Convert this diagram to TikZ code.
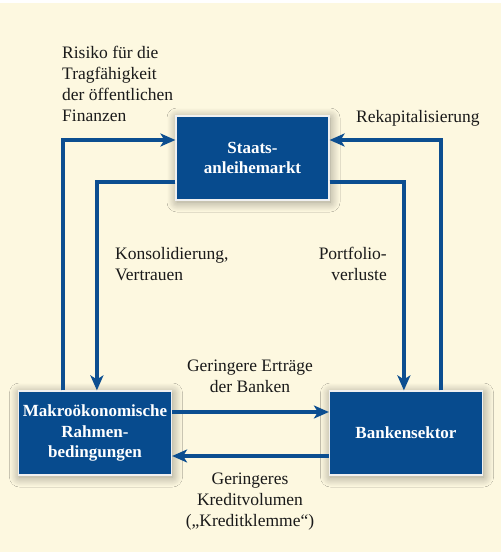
\documentclass[tikz,border=0pt]{standalone}
\usepackage{fontspec}
\setmainfont{Liberation Serif}
\usetikzlibrary{calc,arrows.meta,shadows.blur}

\definecolor{paper}{HTML}{FDF8E0}
\definecolor{boxblue}{HTML}{074B8E}
\definecolor{linkblue}{HTML}{0C4E90}
\definecolor{ink}{HTML}{1A1A1A}

\tikzset{
  block/.style={rectangle, fill=boxblue, draw=white!88!gray, line width=1.2pt,
    minimum width=153pt, minimum height=84pt, inner sep=2pt, align=center,
    text=white, font=\bfseries\fontsize{17}{20.5}\selectfont,
    blur shadow={shadow xshift=1pt, shadow yshift=-2pt,
      shadow blur radius=10pt, shadow blur steps=25, shadow opacity=40}},
  link/.style={draw=linkblue, line width=3.2pt,
    -{Stealth[length=15pt, width=13pt, inset=4pt]}},
  stub/.style={draw=linkblue, line width=4.2pt},
  caption/.style={inner sep=0pt, text=ink, font=\fontsize{17.5}{21}\selectfont}
}

\begin{document}
\begin{tikzpicture}[x=1pt, y=-1pt]
  % page background
  \fill[paper] (0,0) rectangle (501,552);
  \fill[white] (0,0) rectangle (501,3);
  \useasboundingbox (0,0) rectangle (501,552);

  % the three sectors
  \node[block] (market) at (252.5,158) {Staats-\\anleihemarkt};
  \node[block] (macro)  at (95,433)    {Makroökonomische\\Rahmen-\\bedingungen};
  \node[block] (banks)  at (406,433)   {Bankensektor};

  % feedback loops through the bond market
  \draw[link] ($(macro.north west)+(45,0)$) |- ($(market.west)+(0,-18)$);
  \draw[link] ($(market.west)+(0,24)$) -| ($(macro.north west)+(79,0)$);
  \draw[link] ($(banks.north west)+(112,0)$) |- ($(market.east)+(0,-18)$);
  \draw[link] ($(market.east)+(0,24)$) -| ($(banks.north west)+(75,0)$);

  % heavier starts of the loop lines
  \draw[stub] ($(market.west)+(0,24)$) -- ++(-23,0);
  \draw[stub] ($(market.east)+(0,24)$) -- ++(23,0);
  \draw[stub] ($(macro.north west)+(45,0)$) -- ++(0,-26);
  \draw[stub] ($(banks.north west)+(112,0)$) -- ++(0,-26);

  % links between the real economy and the banks
  \draw[link] ($(macro.east)+(0,-21)$) -- ($(banks.west)+(0,-21)$);
  \draw[link] ($(banks.west)+(0,23)$) -- ($(macro.east)+(0,23)$);

  % captions
  \node[caption, anchor=north west, align=left] (risk) at (62,46)
    {Risiko für die\\Tragfähigkeit\\der öffentlichen\\Finanzen};
  \node[caption, anchor=north west, align=left] (recap) at (356,110)
    {Rekapitalisierung};
  \node[caption, anchor=north west, align=left] (consol) at (115,247)
    {Konsolidierung,\\Vertrauen};
  \node[caption, anchor=north east, align=right] (loss) at (387,247)
    {Portfolio-\\verluste};
  \node[caption, anchor=north, align=center] (income) at (250,360)
    {Geringere Erträge\\der Banken};
  \node[caption, anchor=north, align=center] (credit) at (250,473)
    {Geringeres\\Kreditvolumen\\(„Kreditklemme“)};
\end{tikzpicture}
\end{document}
